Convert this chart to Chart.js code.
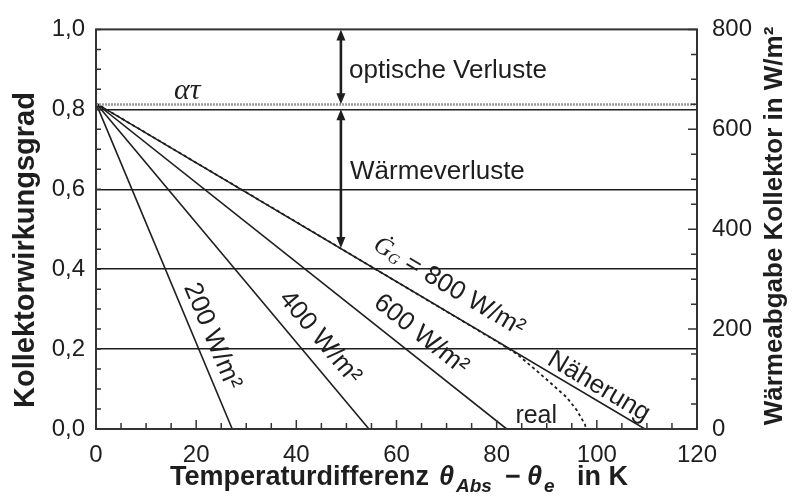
<!DOCTYPE html>
<html>
<head>
<meta charset="utf-8">
<script src="https://cdn.jsdelivr.net/npm/chart.js@4.4.1/dist/chart.umd.min.js"></script>
<style>
  html, body { margin: 0; padding: 0; background: #fff; }
</style>
</head>
<body>
<canvas id="chart" width="792" height="497"></canvas>
<script>
// ── Data ──────────────────────────────────────────────────────────────────────
const irradiance   = [200, 400, 600, 800];          // W/m² per line
const eta0         = 0.815;                         // efficiency at ΔT = 0
const zeroCrossing = [27.2, 54.5, 82.0, 109.6];     // ΔT (K) where η hits 0
const realDt       = [0, 40, 70, 80.7, 84.1, 87.3, 90.7, 94.0, 96.0, 97.6, 97.9];
const realEta      = [0.815, 0.518, 0.294, 0.214, 0.187, 0.153, 0.116, 0.079, 0.047, 0.012, 0];
const alphaTau     = 0.812;

const xLabels      = [0, 20, 40, 60, 80, 100, 120];
const etaLabels    = [0, 0.2, 0.4, 0.6, 0.8, 1.0];
const powerLabels  = [0, 200, 400, 600, 800];
const gridEta      = [0.2, 0.4, 0.6, 0.8];

// arrows at ΔT ≈ 49 K: optical losses 1.0 → ατ, thermal losses 0.8 → 800 W/m² line
const arrowDt      = 48.9;
const opticalSpan  = [1.0, 0.813];
const thermalSpan  = [0.8, 0.453];

// label anchors (data coords of text centre) along the lines
const lineLabelPos = [[23.2, 0.232], [44.7, 0.229], [64.9, 0.236], [70.5, 0.356]];
const approxLabel  = [100.4, 0.106];
const realLabel    = [87.9, 0.032];

const SANS  = '"Liberation Sans", Arial, sans-serif';
const SERIF = '"Liberation Serif", "Times New Roman", serif';
const INK   = '#1e1e1e';

const near = (v, list) => list.some(l => Math.abs(l - v) < 1e-6);

// ── Decorations: frame, inner ticks, arrows, annotations, axis titles ─────────
function drawPieces(ctx, pieces, x, y) {
  let cx = x;
  pieces.forEach(p => {
    ctx.font = p.font;
    if (p.x !== undefined) cx = p.x;
    ctx.fillText(p.t, cx, y + (p.dy || 0));
    cx += ctx.measureText(p.t).width;
  });
}

function piecesWidth(ctx, pieces) {
  return pieces.reduce((w, p) => { ctx.font = p.font; return w + ctx.measureText(p.t).width; }, 0);
}

function rotatedLabel(ctx, pieces, cx, cy, angle) {
  ctx.save();
  ctx.translate(cx, cy);
  ctx.rotate(angle);
  ctx.textBaseline = 'middle';
  ctx.textAlign = 'left';
  drawPieces(ctx, pieces, -piecesWidth(ctx, pieces) / 2, 0);
  ctx.restore();
}

function arrowHead(ctx, x, y, dir) {
  // dir = -1 points up, +1 points down; (x, y) is the tip
  ctx.beginPath();
  ctx.moveTo(x, y);
  ctx.lineTo(x - 4.5, y - dir * 11);
  ctx.lineTo(x + 4.5, y - dir * 11);
  ctx.closePath();
  ctx.fill();
}

function verticalArrow(ctx, x, yTop, yBot) {
  ctx.beginPath();
  ctx.moveTo(x, yTop + 6);
  ctx.lineTo(x, yBot - 6);
  ctx.stroke();
  arrowHead(ctx, x, yTop, -1);
  arrowHead(ctx, x, yBot, 1);
}

const decor = {
  id: 'decor',
  afterDatasetsDraw(chart) {
    const { ctx, chartArea: a, scales } = chart;
    const { x, y, y2 } = scales;
    ctx.save();

    // frame
    ctx.strokeStyle = '#333';
    ctx.lineWidth = 2;
    ctx.strokeRect(a.left, a.top, a.right - a.left, a.bottom - a.top);

    // inward tick marks
    ctx.lineWidth = 1.5;
    ctx.beginPath();
    x.ticks.forEach(t => {
      const px = x.getPixelForValue(t.value);
      const len = near(t.value, xLabels) ? 9 : 6;
      ctx.moveTo(px, a.bottom); ctx.lineTo(px, a.bottom - len);
    });
    y.ticks.forEach(t => {
      const py = y.getPixelForValue(t.value);
      ctx.moveTo(a.left, py); ctx.lineTo(a.left + 5, py);
    });
    y2.ticks.forEach(t => {
      const py = y2.getPixelForValue(t.value);
      const len = near(t.value, powerLabels) ? 9 : 6;
      ctx.moveTo(a.right, py); ctx.lineTo(a.right - len, py);
    });
    ctx.stroke();

    // arrows
    ctx.strokeStyle = INK;
    ctx.fillStyle = INK;
    ctx.lineWidth = 2.6;
    const ax = x.getPixelForValue(arrowDt);
    verticalArrow(ctx, ax, y.getPixelForValue(opticalSpan[0]), y.getPixelForValue(opticalSpan[1]));
    verticalArrow(ctx, ax, y.getPixelForValue(thermalSpan[0]), y.getPixelForValue(thermalSpan[1]));

    // plain annotations
    ctx.fillStyle = INK;
    ctx.textBaseline = 'alphabetic';
    ctx.textAlign = 'left';
    ctx.font = '26px ' + SANS;
    ctx.fillText('optische Verluste', 349, 78);
    ctx.fillText('Wärmeverluste', 350, 179);
    ctx.font = 'italic 30px ' + SERIF;
    ctx.fillText('ατ', 174, 99);

    // labels along the lines
    const lineAngle = i => Math.atan2(
      y.getPixelForValue(0) - y.getPixelForValue(eta0),
      x.getPixelForValue(zeroCrossing[i]) - x.getPixelForValue(0));
    const labelFont = '26px ' + SANS;
    irradiance.forEach((g, i) => {
      const [lx, ly] = lineLabelPos[i];
      const pieces = i === 3
        ? [{ t: 'Ġ', font: 'italic 25px ' + SERIF },
           { t: 'G', font: 'italic 15px ' + SERIF, dy: 5 },
           { t: ' = ' + g + ' W/m²', font: labelFont }]
        : [{ t: g + ' W/m²', font: labelFont }];
      rotatedLabel(ctx, pieces, x.getPixelForValue(lx), y.getPixelForValue(ly), lineAngle(i));
    });
    rotatedLabel(ctx, [{ t: 'Näherung', font: labelFont }],
      x.getPixelForValue(approxLabel[0]), y.getPixelForValue(approxLabel[1]), lineAngle(3));
    rotatedLabel(ctx, [{ t: 'real', font: '25px ' + SANS }],
      x.getPixelForValue(realLabel[0]), y.getPixelForValue(realLabel[1]), 0);

    // axis titles
    ctx.textAlign = 'center';
    ctx.textBaseline = 'middle';
    ctx.save();
    ctx.translate(26, 250);
    ctx.rotate(-Math.PI / 2);
    ctx.font = 'bold 29px ' + SANS;
    ctx.fillText('Kollektorwirkungsgrad', 0, 0);
    ctx.restore();
    ctx.save();
    ctx.translate(775, 226);
    ctx.rotate(-Math.PI / 2);
    ctx.font = 'bold 26px ' + SANS;
    ctx.fillText('Wärmeabgabe Kollektor in W/m²', 0, 0);
    ctx.restore();

    ctx.textAlign = 'left';
    ctx.textBaseline = 'alphabetic';
    const B = 'bold 27px ' + SANS, BI = 'italic bold 27px ' + SANS, SUB = 'italic bold 19px ' + SANS;
    drawPieces(ctx, [
      { t: 'Temperaturdifferenz', font: B, x: 170 },
      { t: 'θ', font: BI, x: 439 },
      { t: 'Abs', font: SUB, dy: 7, x: 456 },
      { t: '−', font: B, x: 505 },
      { t: 'θ', font: BI, x: 527 },
      { t: 'e', font: SUB, dy: 7, x: 544 },
      { t: 'in K', font: B, x: 577 },
    ], 170, 485);

    ctx.restore();
  }
};

// ── Datasets ──────────────────────────────────────────────────────────────────
const lineSets = irradiance.map((g, i) => ({
  label: g + ' W/m²',
  data: [{ x: 0, y: eta0 }, { x: zeroCrossing[i], y: 0 }],
  borderColor: INK,
  borderWidth: 1.6,
  pointRadius: 0,
}));

const realSet = {
  label: 'real',
  data: realDt.map((dt, i) => ({ x: dt, y: realEta[i] })),
  borderColor: INK,
  borderWidth: 1.8,
  borderDash: [3, 3],
  pointRadius: 0,
};

const alphaTauSet = {
  label: 'ατ',
  data: [{ x: 0, y: alphaTau }, { x: 120, y: alphaTau }],
  borderColor: '#9a9a9a',
  borderWidth: 2.5,
  borderDash: [2, 1],
  pointRadius: 0,
};

const tickFont = { family: SANS, size: 24 };

new Chart(document.getElementById('chart'), {
  type: 'line',
  data: { datasets: [alphaTauSet, ...lineSets, realSet] },
  options: {
    responsive: false,
    animation: false,
    layout: { padding: { top: 23, left: 0, right: 0, bottom: 0 } },
    plugins: { legend: { display: false }, tooltip: { enabled: false } },
    scales: {
      x: {
        type: 'linear', min: 0, max: 120,
        ticks: {
          stepSize: 5, autoSkip: false, maxRotation: 0, padding: 12,
          font: tickFont, color: INK,
          callback: v => near(v, xLabels) ? String(v) : '',
        },
        grid: { display: false, drawTicks: false },
        border: { display: false },
        afterFit: s => { s.height = 68; },
      },
      y: {
        min: 0, max: 1,
        ticks: {
          stepSize: 0.05, autoSkip: false, padding: 11,
          font: tickFont, color: INK,
          callback: v => near(v, etaLabels) ? v.toFixed(1).replace('.', ',') : '',
        },
        grid: {
          drawTicks: false,
          lineWidth: 1.4,
          color: c => (c.tick && near(c.tick.value, gridEta)) ? INK : 'rgba(0,0,0,0)',
        },
        border: { display: false },
        afterFit: s => { s.width = 96; },
      },
      y2: {
        position: 'right', min: 0, max: 800,
        ticks: {
          stepSize: 50, autoSkip: false, padding: 15,
          font: tickFont, color: INK,
          callback: v => near(v, powerLabels) ? String(v) : '',
        },
        grid: { display: false, drawTicks: false },
        border: { display: false },
        afterFit: s => { s.width = 95; },
      },
    },
  },
  plugins: [decor],
});
</script>
</body>
</html>
